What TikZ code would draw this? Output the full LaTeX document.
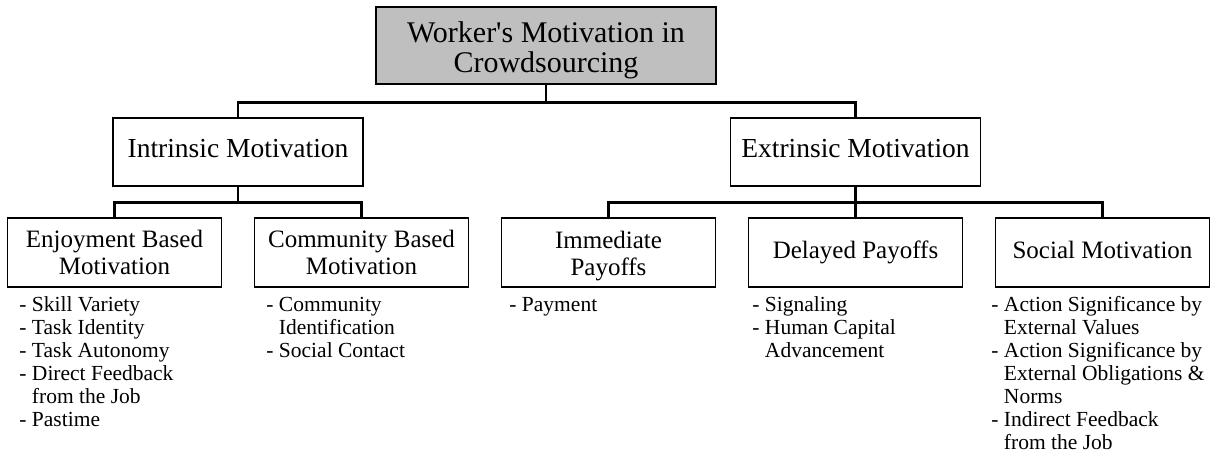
\documentclass[tikz,border=0pt]{standalone}
\usepackage{fontspec}
\setmainfont{Liberation Serif}
\usetikzlibrary{positioning}
\tikzstyle{line} = [draw, line width=2.7pt]
\tikzstyle{topbox} = [rectangle, draw, line width=1.5pt, fill=black!25, minimum width=340pt, minimum height=77pt, align=center, font=\fontsize{30}{30}\selectfont]
\tikzstyle{mainbox} = [rectangle, draw, line width=1.5pt, minimum width=250pt, minimum height=68pt, text height=18.7pt, text depth=8.7pt, font=\fontsize{27.5}{30}\selectfont]
\tikzstyle{subbox} = [rectangle, draw, line width=1.5pt, minimum width=214pt, minimum height=69pt, align=center, node distance=247pt, font=\fontsize{25}{27}\selectfont]
\tikzstyle{onerow} = [text height=17pt, text depth=6pt]
\tikzstyle{items} = [align=left, inner sep=0pt, anchor=north west, font=\fontsize{21.5}{23}\selectfont]

\begin{document}
\begin{tikzpicture}[x=1pt, y=1pt]
			\useasboundingbox (0,0) rectangle (1211,-453);
			\node [topbox] (worker) at (546,-45.5) {\rule{0pt}{29.5pt}Worker\textquotesingle s Motivation in\\Crowdsourcing};
			
			\node [subbox] (enjoy) at (114.5,-252.5) {Enjoyment Based\\Motivation};
			\node [subbox, right of=enjoy] (commu) {Community Based\\Motivation};
			\node [subbox, right of=commu] (immed) {\rule{0pt}{23.5pt}Immediate\\Payoffs};
			\node [subbox, onerow, right of=immed] (delay) {Delayed Payoffs};
			\node [subbox, onerow, right of=delay] (social) {Social Motivation};
			
			\node [mainbox] (intr) at (238,-152) {Intrinsic Motivation};
			\node [mainbox, above of=delay, node distance=100.5pt] (extr) {Extrinsic Motivation};
			
			\node [items] (enjoy_list) at ([xshift=12.5pt, yshift=-7.9pt]enjoy.south west) {\strut- Skill Variety\\- Task Identity\\- Task Autonomy\\- Direct Feedback\\\hphantom{- }from the Job\\- Pastime};
			\node [items] (commu_list) at ([xshift=12.5pt, yshift=-7.9pt]commu.south west) {\strut- Community\\\hphantom{- }Identification\\- Social Contact};
			\node [items] (immed_list) at ([xshift=8.5pt, yshift=-7.9pt]immed.south west) {\strut- Payment};
			\node [items] (delay_list) at ([xshift=4.5pt, yshift=-7.9pt]delay.south west) {\strut- Signaling\\- Human Capital\\\hphantom{- }Advancement};
			\node [items] (social_list) at ([xshift=-3.5pt, yshift=-7.9pt]social.south west) {\strut- Action Significance by\\\hphantom{- }External Values\\- Action Significance by\\\hphantom{- }External Obligations \&\\\hphantom{- }Norms\\- Indirect Feedback\\\hphantom{- }from the Job};
			
			% tree lines
			\draw [line] (worker.south) -- ++(0,-18) coordinate (bus);
			\draw [line] (intr.north) |- (bus) -| (extr.north);
			\draw [line] (intr.south) -- ++(0,-16) coordinate (lbus);
			\draw [line] (enjoy.north) |- (lbus) -| (commu.north);
			\draw [line] (extr.south) -- (delay.north);
			\path (extr.south) ++(0,-16) coordinate (rbus);
			\draw [line] (immed.north) |- (rbus) -| (social.north);
		\end{tikzpicture}
\end{document}
